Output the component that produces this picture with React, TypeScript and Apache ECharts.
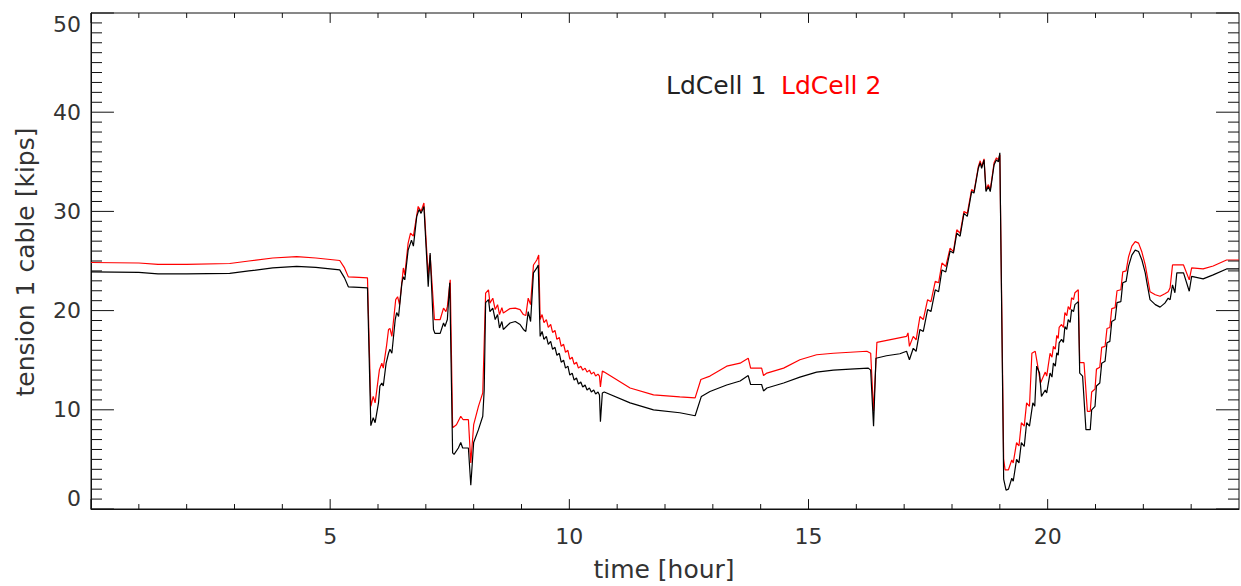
import React, { useEffect, useRef } from "react";
import * as echarts from "echarts";

const FONT = "DejaVu Sans";
const TEXT_COLOR = "#333";
const TICK_COLOR = "#111";

const xTickValues = [5, 10, 15, 20];
const yTickValues = [0, 10, 20, 30, 40, 50];
const xMajorTicks = [0, 5, 10, 15, 20];
const xMinorTicks = [1, 2, 3, 4, 6, 7, 8, 9, 11, 12, 13, 14, 16, 17, 18, 19, 21, 22, 23];
const yMajorTicks = [0, 10, 20, 30, 40, 50];
const yMinorTicks = [
  1, 2, 3, 4, 5, 6, 7, 8, 9, 11, 12, 13, 14, 15, 16, 17, 18, 19, 21, 22, 23, 24, 25, 26, 27, 28, 29,
  31, 32, 33, 34, 35, 36, 37, 38, 39, 41, 42, 43, 44, 45, 46, 47, 48, 49,
];
const xTitle = "time [hour]";
const yTitle = "tension 1 cable [kips]";
const seriesNames = ["LdCell 1", "LdCell 2"];

// [hour, kips]
const ldCell1: number[][] = [
  [0, 23.9], [1.0, 23.85], [1.4, 23.7], [2.0, 23.7], [2.9, 23.75], [3.3, 24.0], [3.8, 24.3], [4.3, 24.45], [4.7, 24.35], [5.2, 24.1],
  [5.3, 23.3], [5.38, 22.4], [5.6, 22.35], [5.78, 22.3], [5.85, 8.4], [5.9, 9.2], [5.94, 8.7], [6.01, 10.7], [6.04, 12.4], [6.08, 12.7],
  [6.11, 12.4], [6.17, 14.7], [6.22, 15.7], [6.25, 16.1], [6.29, 15.7], [6.36, 19.1], [6.39, 19.8], [6.43, 19.4], [6.5, 22.8], [6.53, 23.4],
  [6.56, 23.1], [6.63, 26.1], [6.7, 27.1], [6.74, 26.5], [6.81, 29.5], [6.86, 30.2], [6.9, 29.8], [6.96, 30.5], [7.05, 22.4], [7.09, 25.8],
  [7.16, 18.1], [7.19, 17.7], [7.3, 17.7], [7.37, 18.75], [7.4, 18.4], [7.45, 19.1], [7.5, 22.8], [7.56, 5.65], [7.59, 5.5], [7.68, 6.15],
  [7.73, 6.7], [7.77, 6.15], [7.89, 6.15], [7.94, 2.4], [8.0, 6.7], [8.1, 8.0], [8.19, 9.35], [8.22, 12.0], [8.25, 20.8], [8.31, 21.1],
  [8.34, 19.9], [8.4, 20.25], [8.45, 19.1], [8.5, 19.6], [8.54, 18.25], [8.59, 18.9], [8.62, 18.1], [8.76, 18.75], [8.87, 18.9], [8.97, 18.6],
  [9.04, 18.1], [9.09, 17.9], [9.14, 19.9], [9.19, 18.9], [9.25, 23.8], [9.32, 24.3], [9.35, 24.6], [9.39, 17.4], [9.43, 17.9], [9.47, 17.1],
  [9.52, 17.4], [9.56, 16.6], [9.61, 16.9], [9.65, 16.1], [9.7, 16.3], [9.74, 15.5], [9.79, 15.7], [9.83, 14.8], [9.88, 15.0], [9.92, 14.2],
  [9.97, 14.4], [10.01, 13.5], [10.06, 13.7], [10.1, 13.0], [10.15, 13.2], [10.19, 12.6], [10.24, 12.8], [10.28, 12.3], [10.33, 12.5], [10.37, 12.0],
  [10.42, 12.2], [10.46, 11.8], [10.51, 12.0], [10.55, 11.6], [10.6, 11.8], [10.63, 11.5], [10.65, 8.8], [10.69, 11.7], [10.73, 11.8], [11.27, 10.7],
  [11.76, 10.0], [12.31, 9.7], [12.63, 9.4], [12.76, 11.35], [12.94, 11.85], [13.29, 12.5], [13.57, 12.9], [13.74, 13.45], [13.79, 12.55], [14.02, 12.55],
  [14.06, 11.9], [14.13, 12.2], [14.48, 12.7], [14.82, 13.3], [15.17, 13.8], [15.52, 14.0], [15.87, 14.1], [16.25, 14.2], [16.3, 14.0], [16.36, 8.35],
  [16.41, 15.2], [16.63, 15.45], [16.91, 15.65], [17.05, 15.9], [17.11, 15.05], [17.19, 16.2], [17.25, 15.9], [17.33, 18.1], [17.4, 17.9], [17.49, 20.1],
  [17.56, 19.9], [17.65, 22.1], [17.72, 21.9], [17.79, 24.1], [17.87, 23.9], [17.96, 26.0], [18.03, 25.8], [18.1, 27.8], [18.17, 27.5], [18.25, 29.8],
  [18.32, 29.5], [18.41, 32.0], [18.46, 31.85], [18.55, 34.35], [18.59, 34.9], [18.62, 34.35], [18.67, 35.2], [18.71, 32.0], [18.76, 32.5], [18.8, 32.0],
  [18.88, 34.7], [18.93, 35.2], [18.97, 35.0], [19.0, 35.9], [19.08, 3.0], [19.13, 1.9], [19.18, 2.0], [19.25, 3.1], [19.28, 2.8], [19.35, 5.0],
  [19.4, 4.65], [19.45, 6.7], [19.51, 6.3], [19.56, 8.7], [19.62, 8.35], [19.69, 10.7], [19.73, 10.35], [19.77, 14.4], [19.83, 13.7], [19.87, 11.35],
  [19.95, 12.0], [19.98, 11.7], [20.05, 13.7], [20.09, 13.3], [20.12, 14.7], [20.16, 14.4], [20.19, 15.75], [20.22, 15.5], [20.24, 16.75], [20.29, 17.1],
  [20.33, 16.8], [20.36, 18.4], [20.4, 18.1], [20.43, 19.1], [20.47, 18.8], [20.5, 20.1], [20.54, 19.9], [20.57, 20.6], [20.64, 20.9], [20.67, 13.7],
  [20.73, 13.4], [20.8, 8.0], [20.89, 8.0], [20.92, 10.0], [20.99, 10.35], [21.02, 12.4], [21.09, 12.7], [21.13, 14.7], [21.2, 14.9], [21.24, 16.75],
  [21.3, 16.9], [21.34, 18.9], [21.41, 19.1], [21.45, 20.8], [21.53, 20.9], [21.57, 22.8], [21.64, 22.95], [21.69, 24.45], [21.76, 25.6], [21.83, 26.1],
  [21.9, 25.95], [21.97, 25.1], [22.04, 23.8], [22.07, 22.95], [22.14, 21.1], [22.25, 20.6], [22.35, 20.35], [22.45, 20.75], [22.52, 21.25], [22.56, 21.1],
  [22.61, 22.6], [22.66, 21.8], [22.7, 23.8], [22.84, 23.8], [22.96, 21.95], [23.01, 23.45], [23.25, 23.2], [23.46, 23.6], [23.74, 24.2], [24.0, 24.2],
];

const ldCell2: number[][] = [
  [0, 24.85], [1.0, 24.8], [1.4, 24.65], [2.0, 24.65], [2.9, 24.75], [3.3, 25.0], [3.8, 25.3], [4.3, 25.45], [4.7, 25.3], [5.2, 25.05],
  [5.3, 24.3], [5.38, 23.4], [5.6, 23.35], [5.78, 23.3], [5.85, 10.35], [5.9, 11.35], [5.94, 10.7], [6.03, 14.05], [6.08, 14.7], [6.11, 14.2],
  [6.18, 16.5], [6.22, 18.1], [6.25, 18.2], [6.29, 17.4], [6.37, 21.1], [6.41, 21.4], [6.45, 20.6], [6.53, 24.3], [6.56, 23.6], [6.63, 26.8],
  [6.68, 27.8], [6.74, 27.5], [6.84, 30.5], [6.9, 30.0], [6.96, 30.85], [7.05, 23.45], [7.09, 25.6], [7.18, 19.1], [7.3, 19.1], [7.37, 20.25],
  [7.42, 19.9], [7.45, 20.4], [7.51, 23.1], [7.56, 8.2], [7.64, 8.5], [7.73, 9.35], [7.78, 9.0], [7.89, 9.0], [7.94, 4.65], [8.0, 8.5],
  [8.1, 10.35], [8.19, 11.7], [8.25, 21.75], [8.31, 22.1], [8.34, 20.75], [8.4, 21.25], [8.45, 20.1], [8.5, 20.6], [8.54, 19.6], [8.59, 20.3],
  [8.62, 19.75], [8.76, 20.2], [8.87, 20.25], [8.97, 20.1], [9.04, 19.6], [9.09, 19.5], [9.14, 21.25], [9.19, 20.6], [9.25, 24.6], [9.32, 25.1],
  [9.36, 25.6], [9.39, 19.1], [9.43, 19.6], [9.47, 18.8], [9.52, 19.1], [9.56, 18.3], [9.61, 18.6], [9.65, 17.8], [9.7, 18.0], [9.74, 17.1],
  [9.79, 17.3], [9.83, 16.4], [9.88, 16.6], [9.92, 15.8], [9.97, 16.0], [10.01, 15.1], [10.06, 15.3], [10.1, 14.6], [10.15, 14.8], [10.19, 14.2],
  [10.24, 14.4], [10.28, 14.0], [10.33, 14.2], [10.37, 13.8], [10.42, 14.0], [10.46, 13.6], [10.51, 13.8], [10.55, 13.4], [10.6, 13.6], [10.63, 13.4],
  [10.65, 12.3], [10.69, 13.9], [10.73, 13.8], [11.27, 12.2], [11.76, 11.5], [12.31, 11.3], [12.63, 11.2], [12.75, 13.05], [12.94, 13.4], [13.29, 14.4],
  [13.57, 14.7], [13.74, 15.2], [13.79, 14.2], [14.02, 14.2], [14.06, 13.45], [14.13, 13.7], [14.48, 14.2], [14.82, 15.05], [15.17, 15.55], [15.52, 15.7],
  [16.22, 15.9], [16.3, 15.7], [16.36, 9.85], [16.43, 16.8], [17.05, 17.4], [17.08, 17.75], [17.11, 16.4], [17.19, 17.4], [17.25, 17.05], [17.33, 19.4],
  [17.4, 19.1], [17.49, 21.1], [17.56, 20.9], [17.65, 22.95], [17.72, 22.8], [17.79, 24.8], [17.87, 24.45], [17.96, 26.3], [18.03, 25.95], [18.1, 28.15],
  [18.17, 27.8], [18.25, 30.0], [18.32, 29.8], [18.41, 32.2], [18.46, 32.0], [18.55, 34.5], [18.59, 35.1], [18.62, 34.5], [18.67, 35.3], [18.71, 32.2],
  [18.76, 32.7], [18.8, 32.2], [18.88, 34.9], [18.93, 35.4], [18.97, 35.2], [19.0, 35.7], [19.08, 5.0], [19.11, 3.95], [19.18, 3.95], [19.25, 4.95],
  [19.28, 4.65], [19.35, 6.7], [19.4, 6.35], [19.45, 8.7], [19.51, 8.35], [19.56, 10.7], [19.62, 10.35], [19.67, 15.7], [19.74, 15.9], [19.8, 14.2],
  [19.85, 12.7], [19.95, 13.8], [19.98, 13.4], [20.05, 15.7], [20.09, 15.3], [20.12, 16.4], [20.16, 16.1], [20.19, 17.5], [20.22, 17.2], [20.24, 18.3],
  [20.29, 18.6], [20.33, 18.3], [20.36, 19.8], [20.4, 19.5], [20.43, 20.4], [20.47, 20.1], [20.5, 21.3], [20.54, 21.1], [20.57, 21.8], [20.64, 22.1],
  [20.67, 14.75], [20.76, 14.75], [20.83, 9.85], [20.89, 9.85], [20.92, 11.8], [20.99, 12.1], [21.02, 14.1], [21.09, 14.3], [21.13, 16.3], [21.2, 16.4],
  [21.24, 18.2], [21.3, 18.3], [21.34, 20.2], [21.41, 20.3], [21.45, 22.0], [21.53, 22.1], [21.57, 23.9], [21.64, 24.0], [21.69, 25.4], [21.76, 26.5],
  [21.83, 26.95], [21.9, 26.8], [21.97, 25.9], [22.04, 24.6], [22.07, 23.8], [22.14, 21.9], [22.25, 21.6], [22.35, 21.45], [22.45, 21.7], [22.52, 21.9],
  [22.56, 22.3], [22.61, 24.6], [22.84, 24.6], [22.96, 23.1], [23.01, 24.3], [23.25, 24.2], [23.46, 24.5], [23.74, 25.1], [24.0, 25.1],
];

const X_MIN = 0;
const X_MAX = 24;
const Y_MIN = 0;
const Y_MAX = 50;

// Tick lengths expressed in axis units (style): x-ticks in kips, y-ticks in hours.
const X_MAJOR_LEN = 1.0;
const X_MINOR_LEN = 0.5;
const Y_MAJOR_LEN = 0.48;
const Y_MINOR_LEN = 0.23;

function buildTickSegments(): (number | null)[][] {
  const seg: (number | null)[][] = [];
  const addX = (v: number, len: number) => {
    seg.push([v, Y_MIN], [v, Y_MIN + len], [v, null]);
    seg.push([v, Y_MAX], [v, Y_MAX - len], [v, null]);
  };
  const addY = (v: number, len: number) => {
    seg.push([X_MIN, v], [X_MIN + len, v], [X_MIN + len, null]);
    seg.push([X_MAX, v], [X_MAX - len, v], [X_MAX - len, null]);
  };
  xMajorTicks.forEach((v) => addX(v, X_MAJOR_LEN));
  xMinorTicks.forEach((v) => addX(v, X_MINOR_LEN));
  yMajorTicks.forEach((v) => addY(v, Y_MAJOR_LEN));
  yMinorTicks.forEach((v) => addY(v, Y_MINOR_LEN));
  return seg;
}

export default function App() {
  const ref = useRef<HTMLDivElement>(null);

  useEffect(() => {
    if (!ref.current) return;
    const chart = echarts.init(ref.current, null, { renderer: "svg" });

    chart.setOption({
      animation: false,
      backgroundColor: "#ffffff",
      grid: { left: 91, right: 2, top: 13, bottom: 77, containLabel: false, show: true, borderColor: TICK_COLOR, borderWidth: 1, backgroundColor: "transparent" },
      xAxis: {
        type: "value",
        min: X_MIN,
        max: X_MAX,
        interval: 5,
        splitLine: { show: false },
        axisLine: { show: true, lineStyle: { color: TICK_COLOR, width: 1 } },
        axisTick: { show: false },
        minorTick: { show: false },
        axisLabel: {
          show: true,
          fontFamily: FONT,
          fontSize: 22,
          color: TEXT_COLOR,
          margin: 16,
          showMinLabel: false,
          showMaxLabel: false,
          formatter: (v: number) => (xTickValues.includes(v) ? String(v) : ""),
        },
      },
      yAxis: {
        type: "value",
        min: Y_MIN,
        max: Y_MAX,
        interval: 10,
        splitLine: { show: false },
        axisLine: { show: true, lineStyle: { color: TICK_COLOR, width: 1 } },
        axisTick: { show: false },
        minorTick: { show: false },
        axisLabel: {
          show: true,
          fontFamily: FONT,
          fontSize: 22,
          color: TEXT_COLOR,
          margin: 10,
          verticalAlignMinLabel: "bottom",
          verticalAlignMaxLabel: "top",
          formatter: (v: number) => (yTickValues.includes(v) ? String(v) : ""),
        },
      },
      series: [
        {
          name: seriesNames[0],
          type: "line",
          data: ldCell1,
          showSymbol: false,
          lineStyle: { color: "#000000", width: 1.2 },
          itemStyle: { color: "#000000" },
          z: 3,
        },
        {
          name: seriesNames[1],
          type: "line",
          data: ldCell2,
          showSymbol: false,
          lineStyle: { color: "#ff0000", width: 1.2 },
          itemStyle: { color: "#ff0000" },
          z: 2,
        },
        {
          name: "ticks",
          type: "line",
          data: buildTickSegments(),
          showSymbol: false,
          connectNulls: false,
          clip: false,
          silent: true,
          lineStyle: { color: TICK_COLOR, width: 1 },
          itemStyle: { color: TICK_COLOR },
          z: 4,
        },
      ],
      graphic: [
        {
          type: "text",
          x: 666,
          y: 85,
          style: { text: seriesNames[0], fill: "#222", font: `25px "${FONT}"`, align: "left", verticalAlign: "middle" },
        },
        {
          type: "text",
          x: 781,
          y: 85,
          style: { text: seriesNames[1], fill: "#ff0000", font: `25px "${FONT}"`, align: "left", verticalAlign: "middle" },
        },
        {
          type: "text",
          x: 664,
          y: 569,
          style: { text: xTitle, fill: TEXT_COLOR, font: `25px "${FONT}"`, align: "center", verticalAlign: "middle" },
        },
        {
          type: "text",
          x: 25,
          y: 262,
          rotation: Math.PI / 2,
          style: { text: yTitle, fill: TEXT_COLOR, font: `25px "${FONT}"`, align: "center", verticalAlign: "middle" },
        },
      ],
    });

    return () => chart.dispose();
  }, []);

  return (
    <div
      ref={ref}
      style={{ position: "fixed", left: 0, top: 0, width: 1241, height: 586, background: "#fff" }}
    />
  );
}
